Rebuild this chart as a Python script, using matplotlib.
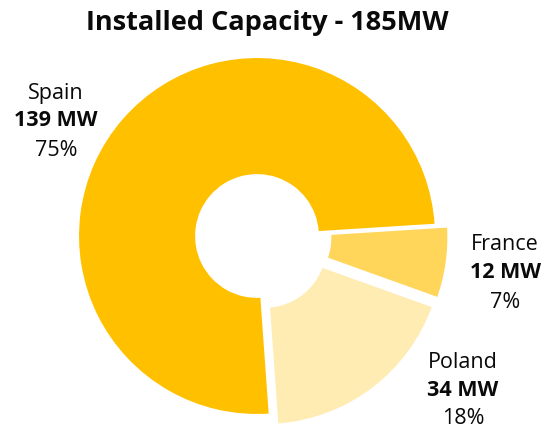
import matplotlib
matplotlib.use("Agg")
import matplotlib.pyplot as plt

plt.rcParams['font.family'] = ['Open Sans', 'DejaVu Sans']

# data
countries = ["Spain", "France", "Poland"]
capacity_mw = [139, 12, 34]
share_pct = [75, 7, 18]
colors = ["#FFC000", "#FFD65A", "#FFECB3"]
explode = [0, 0.07, 0.07]

W, H = 546, 434
R = 179.0          # pie radius in px
CX, CY = 257, 236  # pie centre in px (from top-left)


def px(x, y):
    # pixel (from top-left) -> data coords (pie radius = 1)
    return (x - CX) / R, (CY - y) / R


fig = plt.figure(figsize=(W / 100, H / 100), dpi=100)
ax = fig.add_axes([0, 0, 1, 1])

ax.pie(capacity_mw, colors=colors, explode=explode, startangle=274.1,
       counterclock=False, radius=1,
       wedgeprops=dict(width=0.66, edgecolor="white", linewidth=1.5))

ax.set_xlim(-CX / R, (W - CX) / R)
ax.set_ylim(-(H - CY) / R, CY / R)
ax.set_aspect('auto')
ax.axis('off')

# label positions (px): centre x, y of the three lines
label_pos = {
    "Spain": (56, [93, 121, 151]),
    "France": (505, [245, 273, 302]),
    "Poland": (463, [363, 391, 419]),
}

for name, mw, pct in zip(countries, capacity_mw, share_pct):
    x, ys = label_pos[name]
    lines = [(name, 'normal'), (f"{mw} MW", 'bold'), (f"{pct}%", 'normal')]
    for (txt, w), y in zip(lines, ys):
        dx, dy = px(x, y)
        ax.text(dx, dy, txt, ha='center', va='center', fontsize=15.5,
                fontweight=w, color='#0a0a0a')

tx, ty = px(267, 23)
ax.text(tx, ty, "Installed Capacity - 185MW", ha='center', va='center',
        fontsize=19.5, fontweight='bold', color='#0a0a0a')

fig.savefig("out.png", dpi=100)
